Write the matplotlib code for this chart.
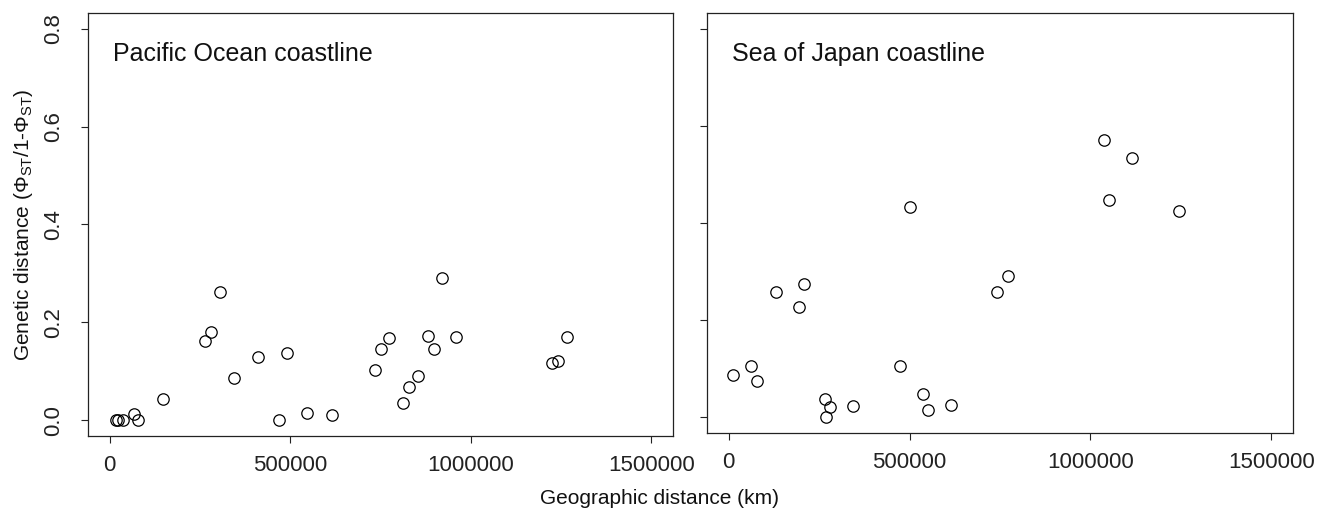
import matplotlib
matplotlib.use("Agg")
import matplotlib.pyplot as plt

plt.rcParams['font.family'] = ['Liberation Sans', 'DejaVu Sans']
plt.rcParams['mathtext.fontset'] = 'custom'
plt.rcParams['mathtext.rm'] = 'Liberation Sans'
plt.rcParams['mathtext.it'] = 'Liberation Sans:italic'
plt.rcParams['mathtext.bf'] = 'Liberation Sans:bold'

# Pacific Ocean coastline
pac_geo = [16600, 23000, 38000, 67000, 79000, 147000, 264000, 281000, 305000,
           343000, 412000, 468000, 492000, 547000, 616000, 734000, 750000,
           774000, 813000, 829000, 853000, 882000, 897000, 921000, 960000,
           1226000, 1242000, 1266000]
pac_gen = [0.0, 0.0, 0.0, 0.012, 0.0, 0.043, 0.163, 0.180, 0.263,
           0.087, 0.129, 0.0, 0.138, 0.014, 0.010, 0.102, 0.146,
           0.169, 0.035, 0.069, 0.090, 0.173, 0.146, 0.290, 0.170,
           0.117, 0.122, 0.171]

# Sea of Japan coastline
soj_geo = [13000, 62000, 78000, 130000, 193000, 208000, 267000, 268000, 281000,
           343000, 474000, 501000, 536000, 551000, 614000, 742000, 771000,
           1038000, 1052000, 1115000, 1246000]
soj_gen = [0.087, 0.105, 0.075, 0.258, 0.227, 0.274, 0.037, 0.001, 0.021,
           0.024, 0.105, 0.432, 0.049, 0.015, 0.026, 0.259, 0.291,
           0.570, 0.448, 0.533, 0.425]

titles = ["Pacific Ocean coastline", "Sea of Japan coastline"]
x_ticks = [0, 500000, 1000000, 1500000]
x_ticklabels = ["0", "500000", "1000000", "1500000"]
y_ticks = [0.0, 0.2, 0.4, 0.6, 0.8]
y_ticklabels = ["0.0", "0.2", "0.4", "0.6", "0.8"]

W, H = 1320, 514
fig = plt.figure(figsize=(W / 100, H / 100), dpi=100)

def px_axes(l, t, r, b):
    return fig.add_axes([l / W, 1 - b / H, (r - l) / W, (b - t) / H])

ax1 = px_axes(88, 13, 673, 436)
ax2 = px_axes(707, 13, 1293, 433)

fs = 15.5
for ax, xs, ys, title in [(ax1, pac_geo, pac_gen, titles[0]),
                          (ax2, soj_geo, soj_gen, titles[1])]:
    ax.plot(xs, ys, linestyle='none', marker='o', markersize=8.2,
            markerfacecolor='none', markeredgecolor='black', markeredgewidth=0.9)
    ax.set_xlim(-60000, 1560000)
    ax.set_ylim(-0.032, 0.832)
    ax.set_xticks(x_ticks)
    ax.set_xticklabels(x_ticklabels)
    ax.set_yticks(y_ticks)
    ax.tick_params(direction='out', length=5, width=0.8, labelsize=16,
                   colors='#222222')
    ax.tick_params(axis='x', pad=9)
    ax.tick_params(axis='y', pad=12)
    for s in ax.spines.values():
        s.set_linewidth(0.9)
        s.set_color('#222222')
    ax.text(0.043, 0.931, title, transform=ax.transAxes, fontsize=18,
            ha='left', va='top', color='#111111')

ax1.set_yticklabels(y_ticklabels, rotation=90, va='center')
ax2.set_yticklabels([])
ax1.set_ylabel(r'Genetic distance ($\Phi_{\mathrm{ST}}$/1-$\Phi_{\mathrm{ST}}$)',
               fontsize=15, labelpad=6, color='#111111')
fig.text(660 / W, 1 - 499 / H, "Geographic distance (km)", fontsize=15,
         ha='center', va='center', color='#111111')

fig.savefig("out.png", dpi=100)
